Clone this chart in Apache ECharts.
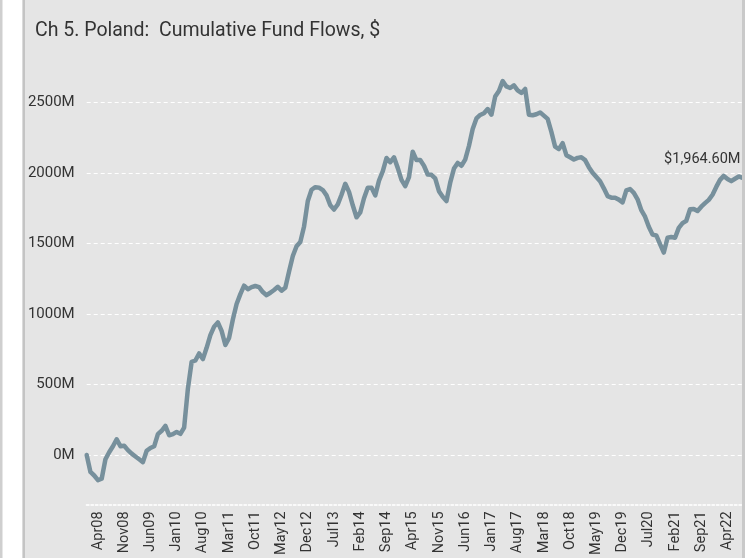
<!DOCTYPE html>
<html>
<head>
<meta charset="utf-8">
<script src="https://cdn.jsdelivr.net/npm/echarts@6/dist/echarts.min.js"></script>
<style>
html,body{margin:0;padding:0;background:#fff;}
#chart{width:747px;height:558px;}
</style>
</head>
<body>
<div id="chart"></div>
<script>
// Month abbreviations and years used to build the category labels (Jan08 .. Aug22)
var monthNames = ['Jan','Feb','Mar','Apr','May','Jun','Jul','Aug','Sep','Oct','Nov','Dec'];
var firstYear = 2008;
var pointCount = 176;

// Cumulative fund flows, $M (monthly)
var flows = [
  0, -120, -145, -178, -168, -30, 20, 62, 112, 62, 66, 35,
  10, -10, -30, -50, 30, 50, 62, 148, 172, 207, 140, 148,
  164, 150, 195, 470, 660, 670, 720, 680, 760, 850, 910, 940,
  880, 780, 830, 960, 1070, 1140, 1200, 1175, 1190, 1198, 1190, 1155,
  1133, 1150, 1170, 1192, 1165, 1185, 1300, 1410, 1480, 1510, 1620, 1800,
  1880, 1898, 1895, 1878, 1840, 1770, 1740, 1776, 1845, 1922, 1865, 1770,
  1685, 1720, 1820, 1895, 1895, 1840, 1945, 2010, 2105, 2075, 2110, 2035,
  1950, 1905, 1970, 2150, 2090, 2090, 2050, 1988, 1986, 1960, 1870, 1830,
  1800, 1930, 2030, 2070, 2050, 2094, 2190, 2310, 2385, 2410, 2422, 2452,
  2412, 2540, 2580, 2650, 2612, 2601, 2620, 2584, 2566, 2594, 2412, 2408,
  2415, 2428, 2405, 2382, 2290, 2185, 2168, 2210, 2125, 2110, 2094, 2106,
  2110, 2090, 2040, 2000, 1970, 1940, 1890, 1835, 1824, 1823, 1810, 1790,
  1875, 1885, 1858, 1812, 1735, 1689, 1618, 1562, 1556, 1495, 1435, 1540,
  1545, 1540, 1610, 1643, 1660, 1742, 1744, 1729, 1760, 1785, 1808, 1845,
  1900, 1950, 1978, 1956, 1941, 1958, 1974, 1964.6
];

// Y axis tick values
var yTicks = [0, 500, 1000, 1500, 2000, 2500];
var titleText = 'Ch 5. Poland:  Cumulative Fund Flows, $';
var endLabelText = '$1,964.60M';

var categories = [];
for (var i = 0; i < pointCount; i++) {
  var m = i % 12;
  var y = firstYear + Math.floor(i / 12);
  categories.push(monthNames[m] + String(y % 100).padStart(2, '0'));
}

var chart = echarts.init(document.getElementById('chart'), null, {renderer: 'canvas'});
var FONT = 'Roboto, "Noto Sans", sans-serif';

chart.setOption({
  backgroundColor: '#ffffff',
  animation: false,
  graphic: [
    {type: 'rect', left: 0, top: 0, shape: {x: 0, y: 0, width: 2.5, height: 558}, style: {fill: '#cfcfcf'}, z: -10},
    {type: 'rect', left: 22.5, top: 0, shape: {x: 0, y: 0, width: 722, height: 558}, style: {fill: '#e5e5e5'}, z: -10},
    {type: 'rect', left: 22.5, top: 0, shape: {x: 0, y: 0, width: 2.5, height: 558}, style: {fill: '#c4c4c4'}, z: -9},
    {type: 'rect', left: 742, top: 0, shape: {x: 0, y: 0, width: 3, height: 558}, style: {fill: '#c9c9c9'}, z: 10}
  ],
  title: {
    text: titleText,
    left: 30,
    top: 16,
    textStyle: {fontFamily: FONT, fontSize: 19.5, fontWeight: 'normal', color: '#333333'}
  },
  grid: {left: 86.7, right: 4.5, top: 31.7, bottom: 31.1, containLabel: false},
  xAxis: {
    type: 'category',
    data: categories,
    boundaryGap: false,
    offset: -21.2,
    axisLine: {show: true, onZero: false, lineStyle: {color: '#fafafa', width: 2, type: [2, 2.5]}},
    axisTick: {show: false},
    splitLine: {show: false},
    axisLabel: {
      interval: function (idx) { return (idx - 3) % 7 === 0; },
      rotate: 90,
      margin: 7,
      fontFamily: FONT,
      fontSize: 14.5,
      color: '#333333'
    }
  },
  yAxis: {
    type: 'value',
    min: -500,
    max: 3000,
    interval: 500,
    axisLine: {show: false},
    axisTick: {show: false},
    axisLabel: {
      margin: 12,
      fontFamily: FONT,
      fontSize: 15,
      color: '#333333',
      formatter: function (v) { return yTicks.indexOf(v) >= 0 ? v + 'M' : ''; }
    },
    splitLine: {
      show: true,
      showMinLine: false,
      showMaxLine: false,
      lineStyle: {color: '#ffffff', width: 1, type: [4, 3]}
    }
  },
  series: [{
    type: 'line',
    data: flows,
    symbol: 'none',
    smooth: false,
    lineStyle: {color: '#77909c', width: 4.5, join: 'round', cap: 'round'},
    endLabel: {
      show: true,
      formatter: function () { return endLabelText; },
      align: 'right',
      verticalAlign: 'middle',
      distance: 0,
      offset: [-2, -18],
      fontFamily: FONT,
      fontSize: 14.5,
      color: '#333333'
    }
  }]
});
</script>
</body>
</html>
